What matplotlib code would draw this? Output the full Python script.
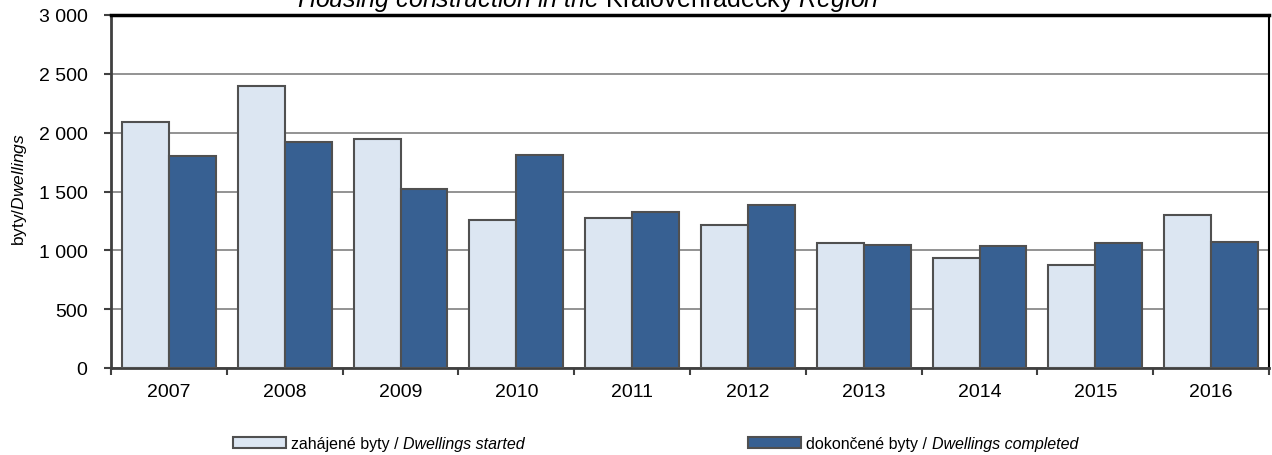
import matplotlib
matplotlib.use("Agg")
import matplotlib.pyplot as plt
from matplotlib.ticker import FuncFormatter, FixedLocator
from matplotlib.patches import Rectangle
import numpy as np

years = ["2007", "2008", "2009", "2010", "2011", "2012", "2013", "2014", "2015", "2016"]
started = [2090, 2398, 1943, 1256, 1273, 1219, 1063, 937, 875, 1301]
completed = [1801, 1920, 1517, 1807, 1327, 1386, 1048, 1037, 1060, 1068]
yticks = [0, 500, 1000, 1500, 2000, 2500, 3000]
legend_labels = [("zahájené byty / ", "Dwellings started"),
                 ("dokončené byty / ", "Dwellings completed")]

plt.rcParams['font.family'] = ['Liberation Sans', 'DejaVu Sans']
plt.rcParams['mathtext.fontset'] = 'custom'
plt.rcParams['mathtext.rm'] = 'Liberation Sans'
plt.rcParams['mathtext.it'] = 'Liberation Sans:italic'

W, H = 1272, 456
fig = plt.figure(figsize=(W / 100, H / 100), dpi=100)
ax = fig.add_axes([111 / W, 1 - 369 / H, (1269 - 111) / W, (369 - 16) / H])

light = '#DCE6F2'
dark = '#376092'
edge = '#505050'
x = np.arange(len(years))
bw = 0.405
ax.bar(x - bw / 2, started, bw, color=light, edgecolor=edge, linewidth=1.5, zorder=3)
ax.bar(x + bw / 2, completed, bw, color=dark, edgecolor=edge, linewidth=1.5, zorder=3)

ax.set_xlim(-0.5, len(years) - 0.5)
ax.set_ylim(0, 3000)
ax.set_yticks(yticks)
ax.yaxis.set_major_formatter(FuncFormatter(lambda v, p: f"{int(v):,}".replace(",", " ")))
ax.yaxis.grid(True, color='#808080', linewidth=1.2, zorder=0)
ax.set_axisbelow(True)

ax.set_xticks(x)
ax.set_xticklabels(years)
ax.xaxis.set_minor_locator(FixedLocator(np.arange(-0.5, len(years), 1.0)))
ax.tick_params(axis='x', which='major', length=0, labelsize=14, pad=11)
ax.tick_params(axis='x', which='minor', length=5, width=1.5, color='#404040', direction='out')
ax.tick_params(axis='y', length=5, width=1.5, color='#404040', labelsize=14, pad=12)

for s in ['left', 'bottom']:
    ax.spines[s].set_color('#404040')
    ax.spines[s].set_linewidth(2)
for s in ['top', 'right']:
    ax.spines[s].set_color('black')
    ax.spines[s].set_linewidth(1.5)
ax.spines['top'].set_linewidth(2.5)

fig.text(20 / W, 1 - 190 / H, 'byty/$\\it{Dwellings}$', rotation=90, fontsize=12.5,
         ha='center', va='center')

fig.text(297 / W, 1 - 7 / H,
         '$\\it{Housing\\ construction\\ in\\ the}$ Královéhradecký $\\it{Region}$',
         fontsize=18, ha='left', va='baseline')

# legend drawn manually (mixed upright / italic)
renderer = fig.canvas.get_renderer()
legend_fs = 11.5
patch_x = [233, 748]
colors = [light, dark]
ly = 443
for (up, it), px, c in zip(legend_labels, patch_x, colors):
    fig.patches.append(Rectangle((px / W, 1 - 449 / H), 53 / W, 11 / H,
                                 transform=fig.transFigure, facecolor=c,
                                 edgecolor=edge, linewidth=1.5))
    t1 = fig.text((px + 58) / W, 1 - ly / H, up, fontsize=legend_fs,
                  ha='left', va='center_baseline')
    bb = t1.get_window_extent(renderer)
    fig.text(bb.x1 / W, 1 - ly / H, it, fontsize=legend_fs, style='italic',
             ha='left', va='center_baseline')

fig.savefig('out.png', dpi=100)
